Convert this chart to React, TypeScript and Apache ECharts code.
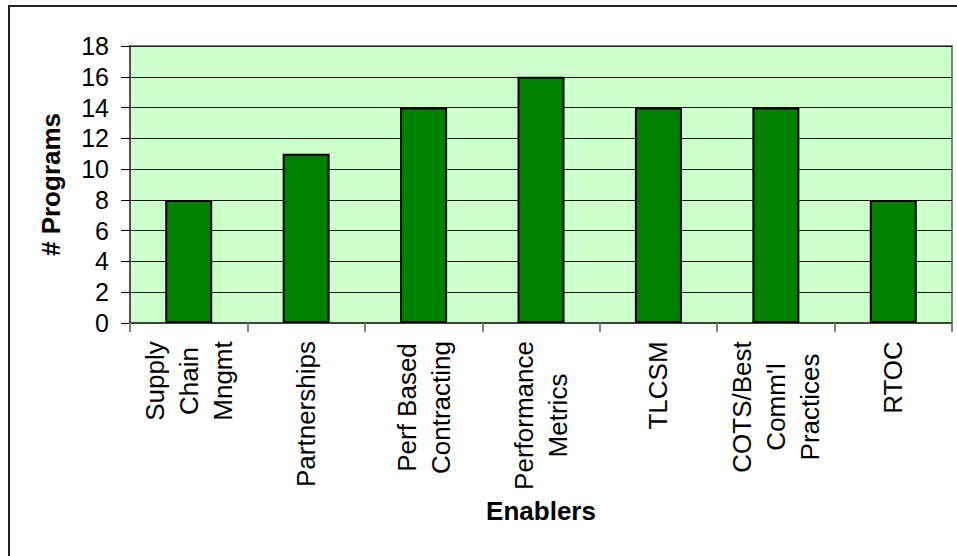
import React, { useEffect, useRef } from "react";
import * as echarts from "echarts";

// Enabler categories (line breaks mark the wrapped label lines)
const categories: string[] = [
  "Supply\nChain\nMngmt",
  "Partnerships",
  "Perf Based\nContracting",
  "Performance\nMetrics",
  "TLCSM",
  "COTS/Best\nComm'l\nPractices",
  "RTOC",
];

// Number of programs using each enabler
const programs: number[] = [8, 11, 14, 16, 14, 14, 8];

// Value axis range and step
const yMin = 0;
const yMax = 18;
const yStep = 2;

const FONT = "'Liberation Sans', Arial, Helvetica, sans-serif";
const LABEL_SIZE = 26;
const LABEL_LINE = 34;

function textWidth(text: string, font: string): number {
  const ctx = document.createElement("canvas").getContext("2d");
  if (!ctx) return text.length * 13;
  ctx.font = font;
  return ctx.measureText(text).width;
}

// One rich style per category so the wrapped lines are centred within their block
function buildRich() {
  const rich: Record<string, any> = {};
  categories.forEach((c, i) => {
    const lines = c.split("\n");
    const w = Math.ceil(
      Math.max(...lines.map((l) => textWidth(l, `${LABEL_SIZE}px ${FONT}`)))
    );
    rich["c" + i] = {
      width: w,
      align: "center",
      fontSize: LABEL_SIZE,
      lineHeight: LABEL_LINE,
      fontFamily: FONT,
      color: "#000",
    };
  });
  return rich;
}

export default function App() {
  const ref = useRef<HTMLDivElement>(null);

  useEffect(() => {
    if (!ref.current) return;
    const chart = echarts.init(ref.current, null, { renderer: "svg" });
    const rich = buildRich();

    chart.setOption({
      animation: false,
      backgroundColor: "#ffffff",
      textStyle: { fontFamily: FONT },
      graphic: [
        {
          type: "rect",
          shape: { x: 9, y: 6, width: 980, height: 600 },
          style: { fill: "none", stroke: "#222", lineWidth: 2 },
          silent: true,
          z: -1,
        },
      ],
      grid: {
        left: 130,
        top: 46,
        right: 5,
        bottom: 233,
        show: true,
        backgroundColor: "#CCFFCC",
        borderColor: "#808080",
        borderWidth: 2,
      },
      xAxis: {
        type: "category",
        data: categories,
        name: "Enablers",
        nameLocation: "middle",
        nameGap: 175,
        nameTextStyle: {
          fontSize: 26,
          fontWeight: "bold",
          fontFamily: FONT,
          color: "#000",
        },
        axisLine: { show: true, lineStyle: { color: "#404040", width: 2 } },
        axisTick: {
          show: true,
          alignWithLabel: false,
          length: 9,
          lineStyle: { color: "#808080", width: 2 },
        },
        axisLabel: {
          interval: 0,
          rotate: 90,
          margin: 18,
          fontSize: LABEL_SIZE,
          lineHeight: LABEL_LINE,
          fontFamily: FONT,
          color: "#000",
          formatter: (value: string) => {
            const i = categories.indexOf(value);
            return value
              .split("\n")
              .map((l) => `{c${i}|${l}}`)
              .join("\n");
          },
          rich,
        },
        splitLine: { show: false },
      },
      yAxis: {
        type: "value",
        min: yMin,
        max: yMax,
        interval: yStep,
        name: "# Programs",
        nameLocation: "middle",
        nameRotate: 90,
        nameGap: 66,
        nameTextStyle: {
          fontSize: 26,
          fontWeight: "bold",
          fontFamily: FONT,
          color: "#000",
        },
        axisLine: { show: true, lineStyle: { color: "#505050", width: 2 } },
        axisTick: { show: true, length: 9, lineStyle: { color: "#000", width: 1 } },
        axisLabel: {
          margin: 21,
          fontSize: 25,
          fontFamily: FONT,
          color: "#000",
        },
        splitLine: { show: true, lineStyle: { color: "#1a1a1a", width: 1 } },
      },
      series: [
        {
          type: "bar",
          data: programs,
          barWidth: 47,
          itemStyle: {
            color: "#008000",
            borderColor: "#000",
            borderWidth: 2,
          },
        },
      ],
    });

    return () => chart.dispose();
  }, []);

  return (
    <div
      ref={ref}
      style={{ position: "fixed", left: 0, top: 0, width: 957, height: 556 }}
    />
  );
}
